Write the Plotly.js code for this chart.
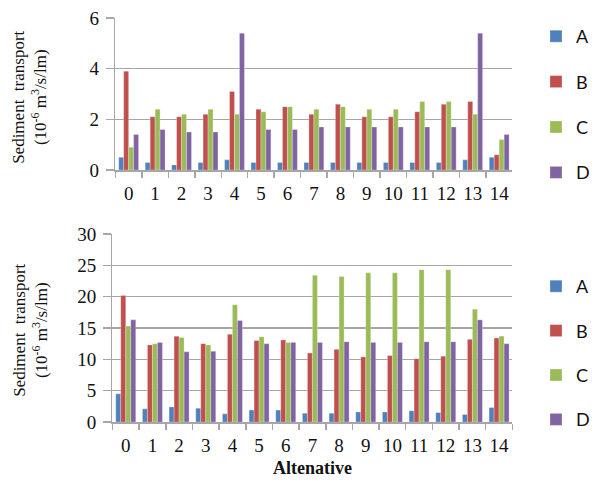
<!DOCTYPE html>
<html><head><meta charset="utf-8">
<script src="https://cdn.plot.ly/plotly-3.0.1.min.js"></script>
<style>body{margin:0;padding:0;background:#fff}#chart{width:595px;height:484px}</style>
</head><body><div id="chart"></div>
<script>
const categories = ['0','1','2','3','4','5','6','7','8','9','10','11','12','13','14'];
const seriesNames = ['A','B','C','D'];
const colors = ['#4F81BD','#C0504D','#9BBB59','#8064A2'];

// Top panel
const topA = [0.5,0.3,0.2,0.3,0.4,0.3,0.3,0.3,0.3,0.3,0.3,0.3,0.3,0.4,0.5];
const topB = [3.9,2.1,2.1,2.2,3.1,2.4,2.5,2.2,2.6,2.1,2.1,2.3,2.6,2.7,0.6];
const topC = [0.9,2.4,2.2,2.4,2.2,2.3,2.5,2.4,2.5,2.4,2.4,2.7,2.7,2.2,1.2];
const topD = [1.4,1.6,1.5,1.5,5.4,1.6,1.6,1.7,1.7,1.7,1.7,1.7,1.7,5.4,1.4];

// Bottom panel
const botA = [4.5,2.1,2.4,2.2,1.3,1.9,1.9,1.4,1.4,1.6,1.6,1.8,1.5,1.2,2.3];
const botB = [20.2,12.3,13.7,12.5,14.0,13.0,13.1,11.0,11.6,10.4,10.6,10.1,10.5,13.2,13.4];
const botC = [15.3,12.5,13.5,12.3,18.7,13.6,12.7,23.4,23.2,23.8,23.8,24.3,24.3,18.0,13.7];
const botD = [16.3,12.7,11.2,11.3,16.2,12.5,12.7,12.7,12.8,12.7,12.7,12.8,12.8,16.3,12.5];

const yTitleText = 'Sediment&#160;&#160;transport<br>(10<sup>-6</sup> m<sup>3</sup>/s/lm)';
const xTitleText = '<b>Altenative</b>';

const topSeries = [topA, topB, topC, topD];
const botSeries = [botA, botB, botC, botD];

const traces = [];
topSeries.forEach((vals, i) => {
  traces.push({type:'bar', x:categories, y:vals, name:seriesNames[i], xaxis:'x', yaxis:'y',
    legend:'legend', legendgroup:'t'+i,
    marker:{color:colors[i], line:{color:'rgba(255,255,255,0.45)', width:0.6}}});
});
botSeries.forEach((vals, i) => {
  traces.push({type:'bar', x:categories, y:vals, name:seriesNames[i], xaxis:'x2', yaxis:'y2',
    legend:'legend2', legendgroup:'b'+i,
    marker:{color:colors[i], line:{color:'rgba(255,255,255,0.45)', width:0.6}}});
});

const serif = 'Liberation Serif, Times New Roman, serif';
const gridC = '#a6a6a6';
const xCommon = {type:'category', showline:true, linecolor:gridC, linewidth:1.5,
  ticks:'outside', tickson:'boundaries', ticklen:6, tickcolor:gridC, tickwidth:1.5, tickangle:0,
  tickfont:{family:serif, size:19, color:'#111'}, ticklabelstandoff:6, showgrid:false, fixedrange:true};
const yCommon = {showline:true, linecolor:gridC, linewidth:1.5, showgrid:true, gridcolor:gridC, gridwidth:1.5,
  ticks:'outside', ticklen:8, tickcolor:gridC, tickwidth:1.5, zeroline:false,
  tickfont:{family:serif, size:19, color:'#111'}, ticklabelstandoff:3, fixedrange:true};
const annFont = {family:serif, size:17, color:'#111'};

const layout = {
  width:595, height:484, margin:{l:0,r:0,t:0,b:0}, paper_bgcolor:'#fff', plot_bgcolor:'#fff',
  barmode:'group', bargap:0.25, bargroupgap:0,
  xaxis: Object.assign({}, xCommon, {domain:[116/595, 515/595], anchor:'y'}),
  yaxis: Object.assign({}, yCommon, {domain:[1-170/484, 1-18/484], range:[0,6], dtick:2, anchor:'x'}),
  xaxis2: Object.assign({}, xCommon, {domain:[113/595, 515/595], anchor:'y2'}),
  yaxis2: Object.assign({}, yCommon, {domain:[1-422/484, 1-234/484], range:[0,30], dtick:5, anchor:'x2'}),
  annotations:[
    {text:yTitleText, xref:'paper', yref:'paper', x:30/595, y:1-97/484, xanchor:'center', yanchor:'middle',
     textangle:-90, showarrow:false, font:annFont},
    {text:yTitleText, xref:'paper', yref:'paper', x:30/595, y:1-330/484, xanchor:'center', yanchor:'middle',
     textangle:-90, showarrow:false, font:annFont},
    {text:xTitleText, xref:'paper', yref:'paper', x:314/595, y:1-468/484, xanchor:'center', yanchor:'middle',
     showarrow:false, font:{family:serif, size:18, color:'#111'}}
  ],
  legend:{x:539/595, y:1-18/484, xanchor:'left', yanchor:'top', tracegroupgap:19,
    font:{family:'Lato, Open Sans, sans-serif', size:18, color:'#111'}, bgcolor:'rgba(0,0,0,0)'},
  legend2:{x:539/595, y:1-268/484, xanchor:'left', yanchor:'top', tracegroupgap:18,
    font:{family:'Lato, Open Sans, sans-serif', size:18, color:'#111'}, bgcolor:'rgba(0,0,0,0)'},
  showlegend:true
};
Plotly.newPlot('chart', traces, layout, {displayModeBar:false, staticPlot:true});
</script></body></html>
